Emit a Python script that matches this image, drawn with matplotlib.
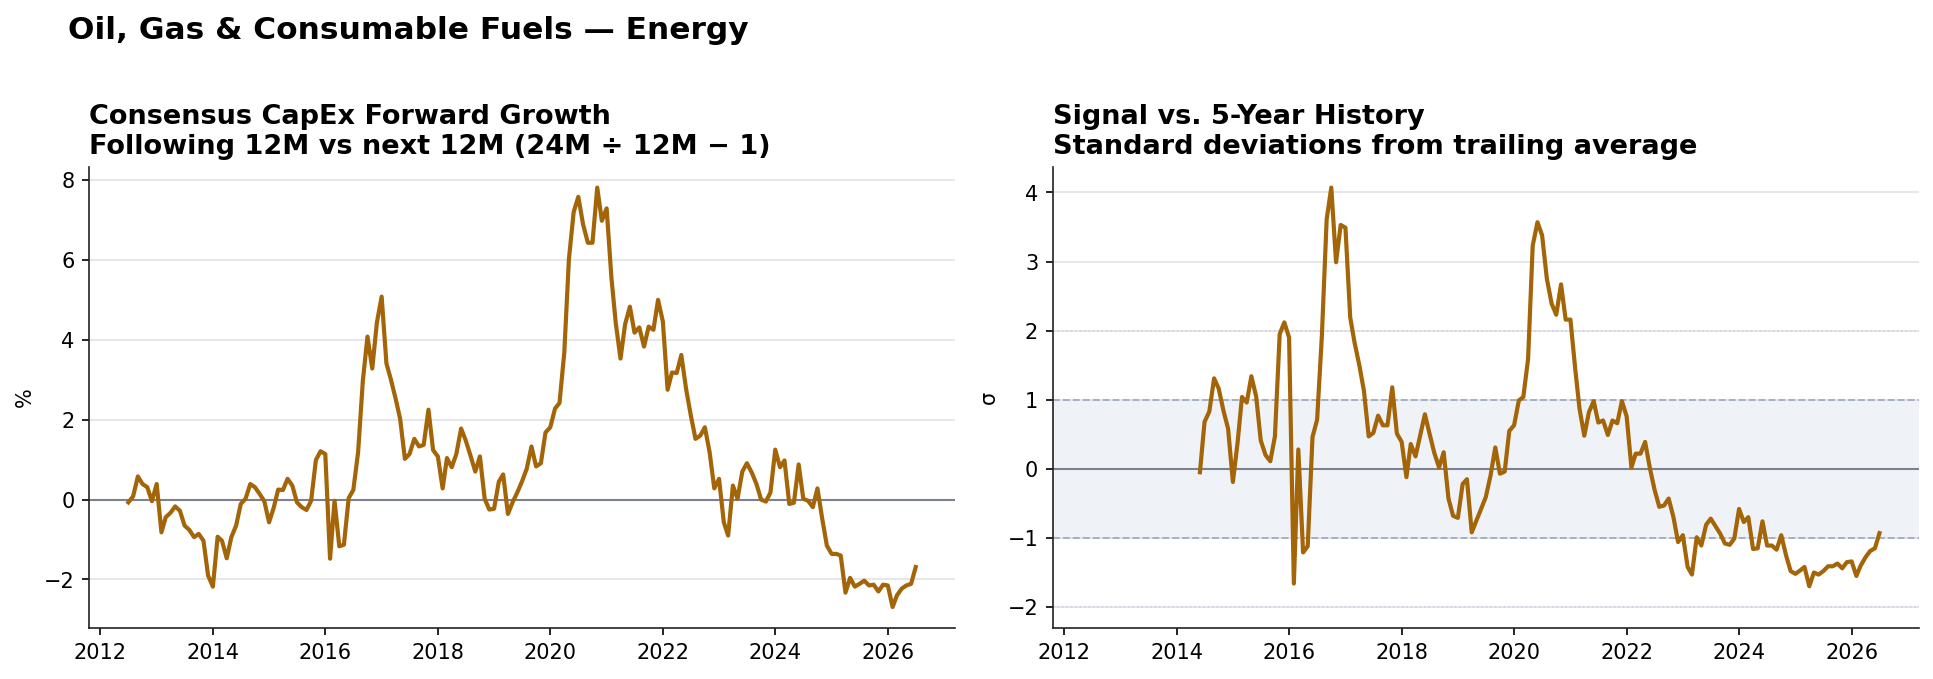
import numpy as np
import pandas as pd
import matplotlib as mpl
mpl.use('Agg')
import matplotlib.pyplot as plt
import matplotlib.dates as mdates

# monthly data, month-end stamps
dates_growth = pd.date_range('2012-06-30', periods=169, freq='ME')
capex_growth = [
    -0.07, 0.08, 0.58, 0.39, 0.31, -0.04, 0.39, -0.82, -0.44, -0.33, -0.17, -0.28,
    -0.65, -0.76, -0.94, -0.86, -1.03, -1.90, -2.18, -0.93, -1.03, -1.47, -0.94, -0.65,
    -0.11, 0.02, 0.39, 0.31, 0.14, -0.04, -0.57, -0.19, 0.25, 0.24, 0.52, 0.35,
    -0.07, -0.19, -0.26, -0.03, 0.99, 1.21, 1.14, -1.48, -0.03, -1.17, -1.13, 0.04,
    0.24, 1.18, 2.98, 4.08, 3.28, 4.43, 5.08, 3.41, 3.02, 2.54, 2.02, 1.02,
    1.14, 1.52, 1.33, 1.37, 2.25, 1.24, 1.08, 0.28, 1.04, 0.81, 1.14, 1.78,
    1.48, 1.10, 0.70, 1.08, 0.02, -0.25, -0.23, 0.45, 0.63, -0.36, -0.07, 0.18,
    0.45, 0.77, 1.33, 0.83, 0.91, 1.68, 1.81, 2.28, 2.42, 3.68, 6.02, 7.20,
    7.58, 6.89, 6.43, 6.43, 7.81, 6.98, 7.29, 5.56, 4.43, 3.53, 4.39, 4.83,
    4.18, 4.31, 3.83, 4.33, 4.25, 5.00, 4.46, 2.75, 3.18, 3.17, 3.62, 2.77,
    2.12, 1.52, 1.60, 1.81, 1.18, 0.28, 0.52, -0.57, -0.90, 0.35, 0.02, 0.70,
    0.91, 0.68, 0.39, 0.00, -0.05, 0.18, 1.25, 0.81, 0.98, -0.11, -0.08, 0.88,
    0.02, -0.03, -0.19, 0.28, -0.48, -1.15, -1.36, -1.36, -1.40, -2.33, -1.96, -2.18,
    -2.11, -2.03, -2.15, -2.13, -2.30, -2.13, -2.15, -2.69, -2.40, -2.23, -2.15, -2.11,
    -1.69,
]

dates_z = pd.date_range('2014-05-31', periods=146, freq='ME')
zscore = [
    -0.05, 0.68, 0.83, 1.31, 1.16, 0.84, 0.58, -0.19, 0.39, 1.04, 0.96, 1.34,
    1.05, 0.41, 0.20, 0.11, 0.47, 1.95, 2.12, 1.90, -1.66, 0.28, -1.21, -1.12,
    0.46, 0.71, 1.93, 3.61, 4.07, 2.99, 3.53, 3.49, 2.19, 1.83, 1.50, 1.13,
    0.47, 0.52, 0.77, 0.63, 0.63, 1.18, 0.51, 0.39, -0.12, 0.36, 0.18, 0.48,
    0.79, 0.51, 0.23, 0.02, 0.24, -0.43, -0.68, -0.71, -0.22, -0.15, -0.92, -0.75,
    -0.58, -0.41, -0.10, 0.31, -0.07, -0.04, 0.55, 0.63, 0.99, 1.04, 1.59, 3.23,
    3.57, 3.38, 2.75, 2.39, 2.23, 2.67, 2.16, 2.16, 1.45, 0.87, 0.48, 0.82,
    0.98, 0.67, 0.70, 0.49, 0.70, 0.66, 0.98, 0.76, 0.02, 0.22, 0.22, 0.39,
    0.01, -0.30, -0.55, -0.53, -0.43, -0.70, -1.06, -0.96, -1.42, -1.53, -0.99, -1.11,
    -0.81, -0.72, -0.83, -0.94, -1.08, -1.10, -1.01, -0.58, -0.77, -0.70, -1.16, -1.15,
    -0.76, -1.11, -1.11, -1.17, -0.96, -1.25, -1.48, -1.52, -1.47, -1.42, -1.70, -1.50,
    -1.53, -1.48, -1.41, -1.41, -1.37, -1.44, -1.35, -1.34, -1.55, -1.40, -1.28, -1.19,
    -1.15, -0.93,
]

lineCol = '#a36508'
zeroCol = '#7c8190'
gridCol = '#e1e1e9'

f, axes = plt.subplots(1, 2, figsize=(12.893, 4.527), dpi=150)
f.subplots_adjust(left=0.046, right=0.9922, bottom=0.0751, top=0.7545, wspace=0.1128)

f.text(0.0352, 0.9426, 'Oil, Gas & Consumable Fuels \u2014 Energy', fontsize=15,
       fontweight='bold', ha='left', va='baseline')

ax = axes[0]
ax.plot(dates_growth, capex_growth, color=lineCol, lw=2, zorder=3)
ax.axhline(0, color=zeroCol, lw=1, zorder=2)
ax.set_title('Consensus CapEx Forward Growth\nFollowing 12M vs next 12M (24M \u00f7 12M \u2212 1)',
             loc='left', fontweight='bold', fontsize=13)
ax.set_ylabel('%')
ax.set_yticks([-2, 0, 2, 4, 6, 8])
ax.yaxis.grid(True, color=gridCol, lw=0.8, zorder=0)

ax = axes[1]
ax.axhspan(-1, 1, color='#eff3f8', lw=0, zorder=0)
ax.axhline(1, color='#a3aec0', lw=0.9, ls='--', zorder=1)
ax.axhline(-1, color='#a3aec0', lw=0.9, ls='--', zorder=1)
ax.axhline(2, color='#ccd3df', lw=0.8, ls=':', zorder=1)
ax.axhline(-2, color='#ccd3df', lw=0.8, ls=':', zorder=1)
ax.axhline(0, color=zeroCol, lw=1, zorder=2)
ax.plot(dates_z, zscore, color=lineCol, lw=2, zorder=3)
ax.set_title('Signal vs. 5-Year History\nStandard deviations from trailing average',
             loc='left', fontweight='bold', fontsize=13)
ax.set_ylabel('\u03c3')
ax.yaxis.grid(True, color=gridCol, lw=0.8, zorder=0)
ax.set_xlim(axes[0].get_xlim())

for ax in axes:
    ax.set_axisbelow(True)
    ax.spines['top'].set_visible(False)
    ax.spines['right'].set_visible(False)
    ax.spines['left'].set_color('#222222')
    ax.spines['bottom'].set_color('#222222')
    ax.xaxis.set_major_locator(mdates.YearLocator(2))
    ax.xaxis.set_major_formatter(mdates.DateFormatter('%Y'))

f.savefig('out.png', dpi=150)
